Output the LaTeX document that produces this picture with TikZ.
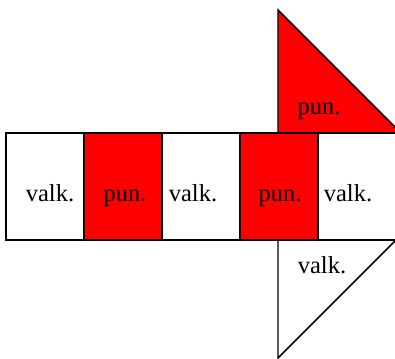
\documentclass[tikz,border=0pt]{standalone}
\usepackage{fontspec}
\setmainfont{Liberation Serif}
\definecolor{cPun}{RGB}{255,0,0}

\begin{document}
\begin{tikzpicture}[
  x=0.75pt, y=-0.75pt,
  %% cell outline
  cell/.style={draw=black, line width=1.1pt},
  punc/.style={cell, fill=cPun},
  valkc/.style={cell, fill=white},
  lbl/.style={font=\fontsize{18.4}{20}\selectfont, anchor=base, inner sep=0pt},
]

%% ── Canvas ───────────────────────────────────────────────────────────────────
\useasboundingbox (0,0) rectangle (395,359);

\def\Top{133}      % strip top (px)
\def\Bot{240}      % strip bottom (px)
\def\W{78}         % cell width
\def\Base{202}     % text baseline in the strip

%% ── Flags above and below ────────────────────────────────────────────────────
\begin{scope}
  \clip (0,0) rectangle (395,359);
  \draw[punc] (278,10) -- (278,\Top) -- (401,\Top) -- cycle;
  \draw[valkc] (278,\Bot) -- (396,\Bot) -- (278,358) -- cycle;
\end{scope}

%% ── Strip of cells ───────────────────────────────────────────────────────────
\foreach \i/\st in {0/valkc, 1/punc, 2/valkc, 3/punc, 4/valkc}
  \draw[\st] ({6+\i*\W},\Top) rectangle ({6+(\i+1)*\W},\Bot);

%% ── Labels ───────────────────────────────────────────────────────────────────
\node[lbl] (v1) at (50,\Base)  {valk.};
\node[lbl] (p1) at (125,\Base) {pun.};
\node[lbl] (v2) at (193,\Base) {valk.};
\node[lbl] (p2) at (280,\Base) {pun.};
\node[lbl] (v3) at (348,\Base) {valk.};

\node[lbl] (pt) at (319,115) {pun.};
\node[lbl] (vb) at (322,273) {valk.};

\end{tikzpicture}
\end{document}
